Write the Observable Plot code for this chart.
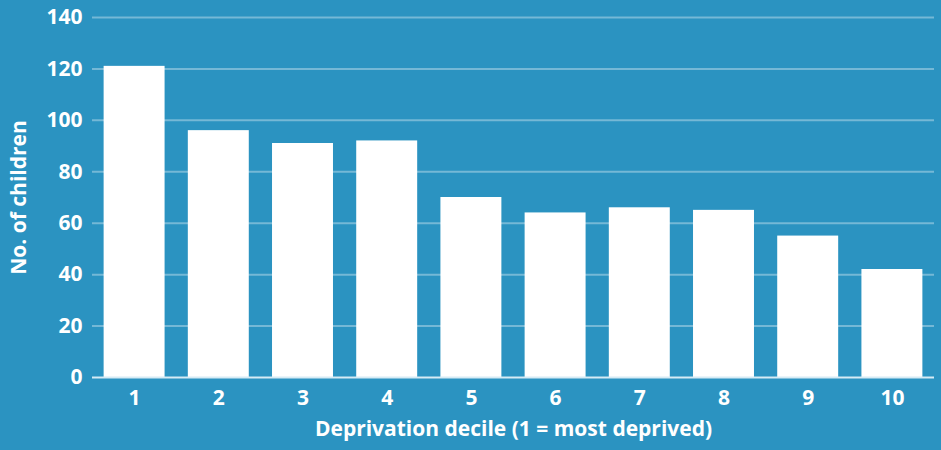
<!DOCTYPE html>
<html>
<head>
<meta charset="utf-8">
<script src="https://cdn.jsdelivr.net/npm/d3@7"></script>
<script src="https://cdn.jsdelivr.net/npm/@observablehq/plot@0.6"></script>
<style>
  html, body { margin: 0; padding: 0; background: #2b93c1; }
  svg { display: block; }
</style>
</head>
<body>
<div id="chart"></div>
<script>
const deciles = ["1", "2", "3", "4", "5", "6", "7", "8", "9", "10"];
const children = [121, 96, 91, 92, 70, 64, 66, 65, 55, 42];
const yTicks = [0, 20, 40, 60, 80, 100, 120, 140];
const xLabel = "Deprivation decile (1 = most deprived)";
const yLabel = "No. of children";

const data = deciles.map((d, i) => ({decile: d, value: children[i]}));
const font = "'Open Sans', Lato, sans-serif";

const chart = Plot.plot({
  width: 941,
  height: 450,
  marginTop: 17,
  marginBottom: 73,
  marginLeft: 92,
  marginRight: 7,
  style: {background: "#2b93c1", color: "white", fontFamily: font, fontSize: "21px", fontWeight: "bold"},
  x: {domain: deciles, padding: 0.276, paddingOuter: 0.138, round: false},
  y: {domain: [0, 140]},
  marks: [
    Plot.ruleY(yTicks.filter(t => t > 0), {stroke: "white", strokeOpacity: 0.35, strokeWidth: 2}),
    Plot.barY(data, {x: "decile", y: "value", fill: "white"}),
    Plot.ruleY([0], {stroke: "#d6ebf5", strokeWidth: 2}),
    Plot.axisY({ticks: yTicks, tickSize: 0, tickPadding: 10, label: null, fontSize: 21, fontWeight: "bold"}),
    Plot.axisX({tickSize: 0, tickPadding: 13, label: null, fontSize: 21, fontWeight: "bold"}),
    Plot.text([yLabel], {frameAnchor: "left", textAnchor: "middle", dx: -73, rotate: -90, text: d => d, fill: "white", fontSize: 21, fontWeight: "bold"}),
    Plot.text([xLabel], {frameAnchor: "bottom", dy: 58, text: d => d, fill: "white", fontSize: 21, fontWeight: "bold"})
  ]
});
document.getElementById("chart").appendChild(chart);
</script>
</body>
</html>
